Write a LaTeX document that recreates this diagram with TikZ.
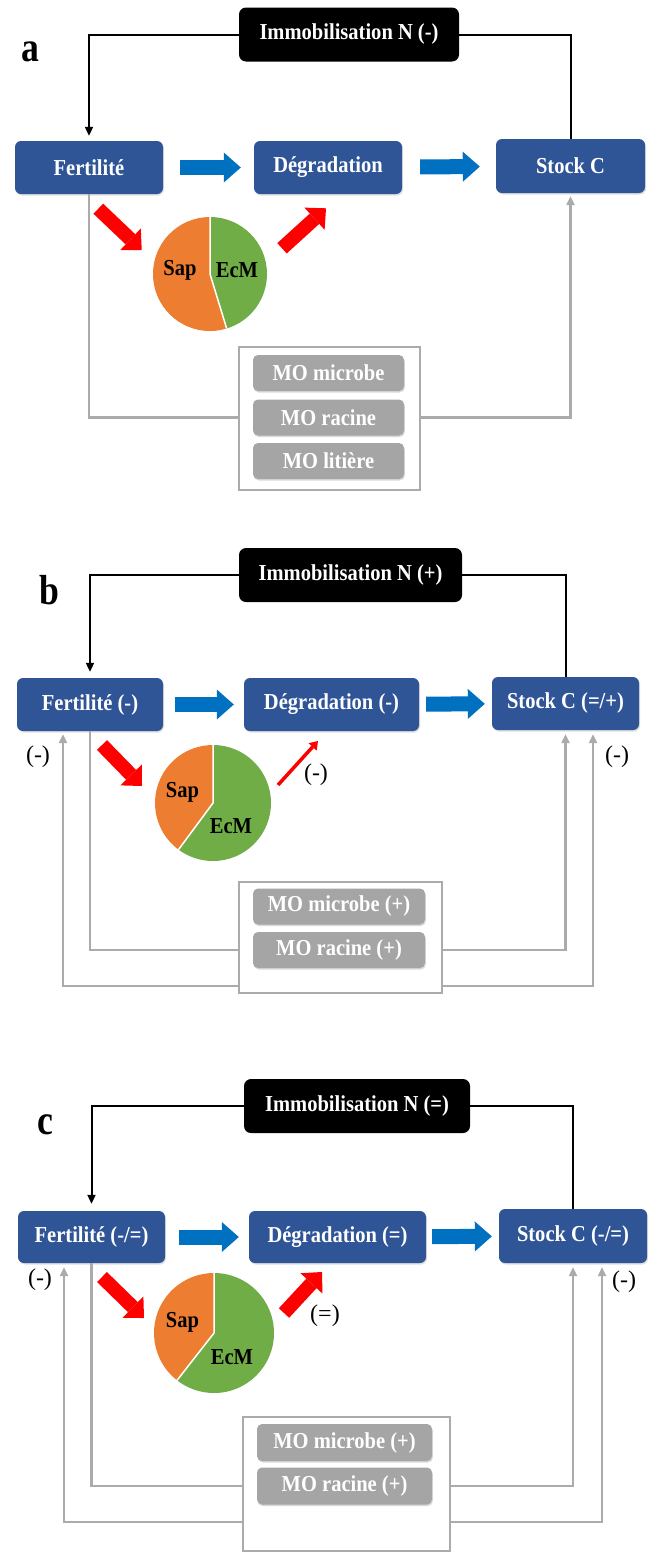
\documentclass[tikz,border=0pt]{standalone}
\usepackage{fontspec}
\setmainfont{Liberation Serif}
\newfontfamily\bxf[FakeStretch=0.9]{Liberation Serif}
\newfontfamily\lxf[FakeStretch=0.85]{Liberation Serif}
\usetikzlibrary{arrows.meta,calc,shadows}
\definecolor{boxblue}{HTML}{2F5597}
\definecolor{arrblue}{HTML}{0070C0}
\definecolor{mogray}{HTML}{A5A5A5}
\definecolor{linegray}{HTML}{ABABAB}
\definecolor{sapor}{HTML}{ED7D31}
\definecolor{ecmgr}{HTML}{70AD47}
\begin{document}
\begin{tikzpicture}[x=1pt,y=-1pt,
  boxfont/.style={font=\bxf\fontsize{22.8}{26}\selectfont\bfseries},
  bluebox/.style={boxfont, fill=boxblue, rounded corners=6pt, text=white, minimum height=53pt, inner sep=0pt,
     drop shadow={opacity=0.25, shadow xshift=1pt, shadow yshift=-1.5pt}},
  immbox/.style={boxfont, fill=black, rounded corners=7pt, text=white, minimum height=54pt, inner sep=0pt},
  mobox/.style={draw=linegray, line width=2pt, fill=white, inner sep=0pt},
  moitem/.style={boxfont, fill=mogray, rounded corners=5pt, text=white, minimum height=36pt, inner sep=0pt,
     drop shadow={opacity=0.3, shadow xshift=0.8pt, shadow yshift=-1.5pt}},
  pietext/.style={boxfont, text=black, inner sep=0pt},
  sign/.style={font=\fontsize{24}{28}\selectfont, inner sep=0pt},
  letter/.style={font=\lxf\fontsize{42}{46}\selectfont\bfseries, inner sep=0pt},
  blk/.style={draw=black, line width=2pt, -{Triangle[width=8pt,length=9pt]}},
  blkline/.style={draw=black, line width=2pt},
  gline/.style={draw=linegray, line width=2.2pt},
  garr/.style={draw=linegray, line width=2.2pt, -{Triangle[width=8pt,length=9pt]}},
  bluearr/.style={draw=arrblue, line width=15pt, -{Triangle[width=30pt,length=17pt,line width=0pt]}},
  redarr/.style={draw=red, line width=14pt, -{Triangle[width=30pt,length=15.5pt,line width=0pt]}},
  thinred/.style={draw=red, line width=3.5pt, -{Triangle[width=11pt,length=8pt,line width=0pt]}},
  sep/.style={draw=white, line width=1.5pt}
]
\useasboundingbox (0,0) rectangle (655,1553);
\fill[white] (0,0) rectangle (655,1553);

% ================= Panel a =================
\node[letter] (labA) at (30.5,52) {a};
\node[immbox, minimum width=220pt] (immA) at (349,34.5) {Immobilisation N (-)};
\node[bluebox, minimum width=148pt] (fertA) at (89,167.5) {Fertilité};
\node[bluebox, minimum width=148pt] (degA) at (328,167.5) {Dégradation};
\node[bluebox, minimum width=149pt, minimum height=54pt] (stockA) at (570.5,166) {Stock C};

\draw[blk, shorten >=5pt] (immA.west) -| (fertA.north);
\draw[blkline] (immA.east) -| (stockA.north);
\draw[bluearr, shorten <=17pt, shorten >=13pt] (fertA) -- (degA);
\draw[bluearr, shorten <=18pt, shorten >=16pt] (degA) -- (stockA);

% pie a
\coordinate (pieA) at (210,274);
\fill[sapor] (pieA) -- ++(73:57) arc[start angle=73, end angle=270, radius=57] -- cycle;
\fill[ecmgr] (pieA) -- ++(-90:57) arc[start angle=-90, end angle=73, radius=57] -- cycle;
\draw[sep] ($(pieA)+(-90:57)$) -- (pieA) -- ($(pieA)+(73:57)$);
\node[pietext] (sapA) at (180,270) {Sap};
\node[pietext] (ecmA) at (237,270) {EcM};

\coordinate (raA1) at (98.3,208.7);
\coordinate (raA2) at (141.7,250);
\coordinate (rbA1) at (282,248.3);
\coordinate (rbA2) at (326,208.3);
\draw[redarr] (raA1) -- (raA2);
\draw[redarr] (rbA1) -- (rbA2);

\node[mobox, minimum width=181pt, minimum height=143pt] (boxA) at (329.5,418.5) {};
\node[moitem, minimum width=151pt] (micA) at (328.5,373) {MO microbe};
\node[moitem, minimum width=151pt] (racA) at (328.5,417.5) {MO racine};
\node[moitem, minimum width=151pt] (litA) at (328.5,461) {MO litière};

\draw[gline] (fertA.south) |- (boxA.west |- racA);
\draw[garr, shorten >=3pt] (boxA.east |- racA) -| (stockA.south);

% ================= Panel b =================
\node[letter] (labB) at (49,590) {b};
\node[immbox, minimum width=223pt] (immB) at (350.5,575) {Immobilisation N (+)};
\node[bluebox, minimum width=146pt] (fertB) at (90,704.5) {Fertilité (-)};
\node[bluebox, minimum width=175pt] (degB) at (331.5,704.5) {Dégradation (-)};
\node[bluebox, minimum width=147pt] (stockB) at (565.5,703.5) {Stock C (=/+)};

\draw[blk, shorten >=6pt] (immB.west) -| (fertB.north);
\draw[blkline] (immB.east) -| (stockB.north);
\draw[bluearr, shorten <=12pt, shorten >=10pt] (fertB) -- (degB);
\draw[bluearr, shorten <=7pt, shorten >=7pt] (degB) -- (stockB);

\coordinate (pieB) at (213,803);
\fill[sapor] (pieB) -- ++(-233.5:58) arc[start angle=-233.5, end angle=-90, radius=58] -- cycle;
\fill[ecmgr] (pieB) -- ++(-90:58) arc[start angle=-90, end angle=126.5, radius=58] -- cycle;
\draw[sep] ($(pieB)+(-90:58)$) -- (pieB) -- ($(pieB)+(-233.5:58)$);
\node[pietext] (sapB) at (182.5,792) {Sap};
\node[pietext] (ecmB) at (231,826) {EcM};

\coordinate (raB1) at (102,745);
\coordinate (raB2) at (142,786);
\coordinate (rbB1) at (278,785);
\coordinate (rbB2) at (318,741);
\draw[redarr] (raB1) -- (raB2);
\draw[thinred] (rbB1) -- (rbB2);
\node[sign] (sgB0) at (316,775) {(-)};
\node[sign] (sgB1) at (38,757) {(-)};
\node[sign] (sgB2) at (617,757) {(-)};

\node[mobox, minimum width=203pt, minimum height=111pt] (boxB) at (340.5,937.5) {};
\node[moitem, minimum width=172pt] (micB) at (339,906.5) {MO microbe (+)};
\node[moitem, minimum width=172pt] (racB) at (339,950) {MO racine (+)};

\coordinate (lowB) at (340.5,986);
\coordinate (xoutBl) at (63,0);
\coordinate (xoutBr) at (593,0);
\draw[gline] (fertB.south) |- (boxB.west |- racB);
\draw[garr, shorten >=3pt] (boxB.west |- lowB) -| (xoutBl |- fertB.south);
\draw[garr, shorten >=4pt] (boxB.east |- racB) -| (stockB.south);
\draw[garr, shorten >=4pt] (boxB.east |- lowB) -| (xoutBr |- stockB.south);

% ================= Panel c =================
\node[letter] (labC) at (45,1125) {c};
\node[immbox, minimum width=226pt] (immC) at (357,1106) {Immobilisation N (=)};
\node[bluebox, minimum width=147pt, minimum height=52pt] (fertC) at (91.5,1237) {Fertilité (-/=)};
\node[bluebox, minimum width=177pt, minimum height=52pt] (degC) at (337.5,1237) {Dégradation (=)};
\node[bluebox, minimum width=148pt, minimum height=54pt] (stockC) at (573,1236) {Stock C (-/=)};

\draw[blk, shorten >=7pt] (immC.west) -| (fertC.north);
\draw[blkline] (immC.east) -| (stockC.north);
\draw[bluearr, shorten <=14pt, shorten >=10pt] (fertC) -- (degC);
\draw[bluearr, shorten <=6pt, shorten >=7pt] (degC) -- (stockC);

\coordinate (pieC) at (214,1333);
\fill[sapor] (pieC) -- ++(-232:60) arc[start angle=-232, end angle=-90, radius=60] -- cycle;
\fill[ecmgr] (pieC) -- ++(-90:60) arc[start angle=-90, end angle=128, radius=60] -- cycle;
\draw[sep] ($(pieC)+(-90:60)$) -- (pieC) -- ($(pieC)+(-232:60)$);
\node[pietext] (sapC) at (182.5,1322) {Sap};
\node[pietext] (ecmC) at (232,1357) {EcM};

\coordinate (raC1) at (102,1277);
\coordinate (raC2) at (144,1318);
\coordinate (rbC1) at (284,1313);
\coordinate (rbC2) at (322,1272);
\draw[redarr] (raC1) -- (raC2);
\draw[redarr] (rbC1) -- (rbC2);
\node[sign] (sgC0) at (325,1316) {(=)};
\node[sign] (sgC1) at (40,1280) {(-)};
\node[sign] (sgC2) at (624,1282) {(-)};

\node[mobox, minimum width=207pt, minimum height=134pt] (boxC) at (346.5,1484) {};
\node[moitem, minimum width=175pt, minimum height=37pt] (micC) at (344.5,1442.5) {MO microbe (+)};
\node[moitem, minimum width=175pt, minimum height=37pt] (racC) at (344.5,1486) {MO racine (+)};

\coordinate (lowC) at (346.5,1522);
\coordinate (xoutCl) at (64,0);
\coordinate (xoutCr) at (602,0);
\draw[gline] (fertC.south) |- (boxC.west |- racC);
\draw[garr, shorten >=4pt] (boxC.west |- lowC) -| (xoutCl |- fertC.south);
\draw[garr, shorten >=4pt] (boxC.east |- racC) -| (stockC.south);
\draw[garr, shorten >=4pt] (boxC.east |- lowC) -| (xoutCr |- stockC.south);
\end{tikzpicture}
\end{document}
